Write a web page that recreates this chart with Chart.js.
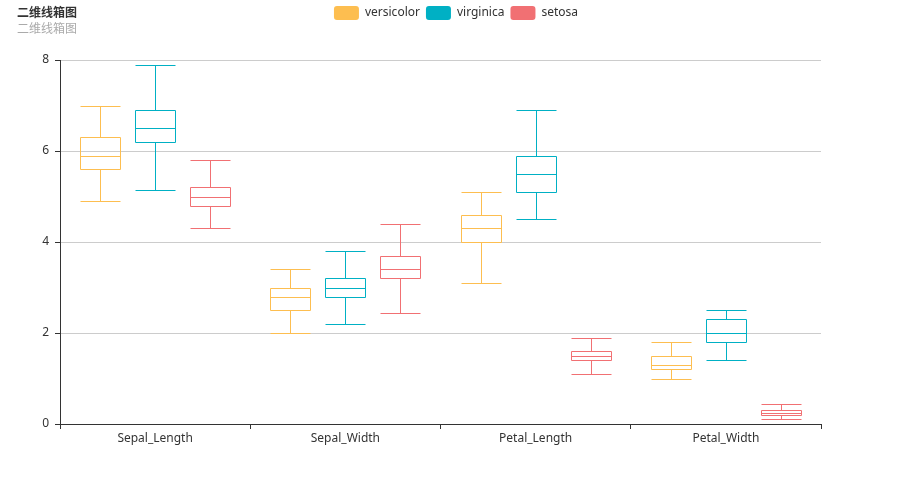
<!DOCTYPE html>
<html>
<head>
<meta charset="utf-8">
<script src="https://cdn.jsdelivr.net/npm/chart.js@4.4.1/dist/chart.umd.min.js"></script>
<style>
  html, body { margin: 0; padding: 0; background: #fff; }
  .wrap { position: relative; width: 912px; height: 504px; }
  .title { position: absolute; left: 17px; top: 3px; font: bold 12px "Noto Sans CJK SC", sans-serif; color: #333; }
  .sub { position: absolute; left: 17px; top: 19px; font: 12px "Noto Sans CJK SC", sans-serif; color: #aaa; }
</style>
</head>
<body>
<div class="wrap">
  <canvas class="myChart" width="912" height="504"></canvas>
  <div class="title">二维线箱图</div>
  <div class="sub">二维线箱图</div>
</div>
<script>
// categories
const categories = ['Sepal_Length', 'Sepal_Width', 'Petal_Length', 'Petal_Width'];
const yTicks = [0, 2, 4, 6, 8];

// each box: [min, q1, median, q3, max]
const versicolor = [
    [4.9, 5.6, 5.9, 6.3, 7.0],
    [2.0, 2.5, 2.8, 3.0, 3.4],
    [3.1, 4.0, 4.3, 4.6, 5.1],
    [1.0, 1.2, 1.3, 1.5, 1.8]
];
const virginica = [
    [5.15, 6.2, 6.5, 6.9, 7.9],
    [2.2, 2.8, 3.0, 3.2, 3.8],
    [4.5, 5.1, 5.5, 5.9, 6.9],
    [1.4, 1.8, 2.0, 2.3, 2.5]
];
const setosa = [
    [4.3, 4.8, 5.0, 5.2, 5.8],
    [2.45, 3.2, 3.4, 3.7, 4.4],
    [1.1, 1.4, 1.5, 1.6, 1.9],
    [0.1, 0.2, 0.25, 0.3, 0.45]
];

const series = [
    { name: 'versicolor', color: 'rgb(253,190,80)', boxes: versicolor },
    { name: 'virginica', color: 'rgb(0,176,196)', boxes: virginica },
    { name: 'setosa', color: 'rgb(241,112,115)', boxes: setosa }
];

// draws box outline, median and whiskers on top of each bar
const boxPlugin = {
    id: 'boxWhiskers',
    afterDatasetsDraw(chart) {
        const ctx = chart.ctx;
        const y = chart.scales.y;
        const px = function (v) { return Math.round(v) + 0.5; };
        chart.data.datasets.forEach(function (ds, i) {
            const meta = chart.getDatasetMeta(i);
            meta.data.forEach(function (bar, j) {
                const b = ds.boxes[j];
                const l = px(bar.x - bar.width / 2);
                const r = px(bar.x + bar.width / 2);
                const cx = px(bar.x);
                const pMin = px(y.getPixelForValue(b[0]));
                const pQ1 = px(y.getPixelForValue(b[1]));
                const pMed = px(y.getPixelForValue(b[2]));
                const pQ3 = px(y.getPixelForValue(b[3]));
                const pMax = px(y.getPixelForValue(b[4]));
                ctx.save();
                ctx.strokeStyle = ds.borderColor;
                ctx.lineWidth = 1;
                ctx.beginPath();
                ctx.rect(l, pQ3, r - l, pQ1 - pQ3);
                ctx.moveTo(l, pMed); ctx.lineTo(r, pMed);
                ctx.moveTo(cx, pQ3); ctx.lineTo(cx, pMax);
                ctx.moveTo(cx, pQ1); ctx.lineTo(cx, pMin);
                ctx.moveTo(l, pMax); ctx.lineTo(r, pMax);
                ctx.moveTo(l, pMin); ctx.lineTo(r, pMin);
                ctx.stroke();
                ctx.restore();
            });
        });
    }
};

const ctx = document.querySelector('.myChart').getContext('2d');
const myChart = new Chart(ctx, {
    type: 'bar',
    data: {
        labels: categories,
        datasets: series.map(function (s) {
            return {
                label: s.name,
                data: s.boxes.map(function (b) { return [b[1], b[3]]; }),
                boxes: s.boxes,
                backgroundColor: 'rgba(255,255,255,0)',
                borderColor: s.color,
                borderWidth: 0,
                categoryPercentage: 0.867,
                barPercentage: 0.727
            };
        })
    },
    options: {
        responsive: false,
        animation: false,
        layout: { padding: 0 },
        plugins: {
            tooltip: { enabled: false },
            legend: {
                position: 'top',
                labels: {
                    boxWidth: 25,
                    boxHeight: 14,
                    useBorderRadius: true,
                    borderRadius: 3,
                    padding: 6,
                    color: '#333',
                    font: { size: 12, family: '"Noto Sans", sans-serif' },
                    generateLabels: function (chart) {
                        return chart.data.datasets.map(function (ds, i) {
                            return {
                                text: ds.label,
                                fillStyle: ds.borderColor,
                                strokeStyle: ds.borderColor,
                                lineWidth: 0,
                                borderRadius: 3,
                                datasetIndex: i,
                                fontColor: '#333'
                            };
                        });
                    }
                }
            }
        },
        scales: {
            x: {
                offset: true,
                grid: { offset: true, drawOnChartArea: false, tickLength: 5, color: '#333' },
                border: { color: '#333' },
                ticks: { color: '#333', font: { size: 12, family: '"Noto Sans", sans-serif' }, padding: 2 },
                afterFit: function (s) { s.height = 80; }
            },
            // empty spacers to place the plot area
            top: {
                position: 'top',
                grid: { display: false },
                border: { display: false },
                ticks: { display: false },
                afterFit: function (s) { s.height = 30; }
            },
            right: {
                position: 'right',
                grid: { display: false },
                border: { display: false },
                ticks: { display: false },
                afterFit: function (s) { s.width = 91; }
            },
            y: {
                min: 0,
                max: 8,
                afterBuildTicks: function (s) { s.ticks = yTicks.map(function (v) { return { value: v }; }); },
                grid: { color: '#ccc', tickColor: '#333', tickLength: 5 },
                border: { color: '#333' },
                ticks: { color: '#333', font: { size: 12, family: '"Noto Sans", sans-serif' }, padding: 6 },
                afterFit: function (s) { s.width = 60; }
            }
        }
    },
    plugins: [boxPlugin]
});
</script>
</body>
</html>
